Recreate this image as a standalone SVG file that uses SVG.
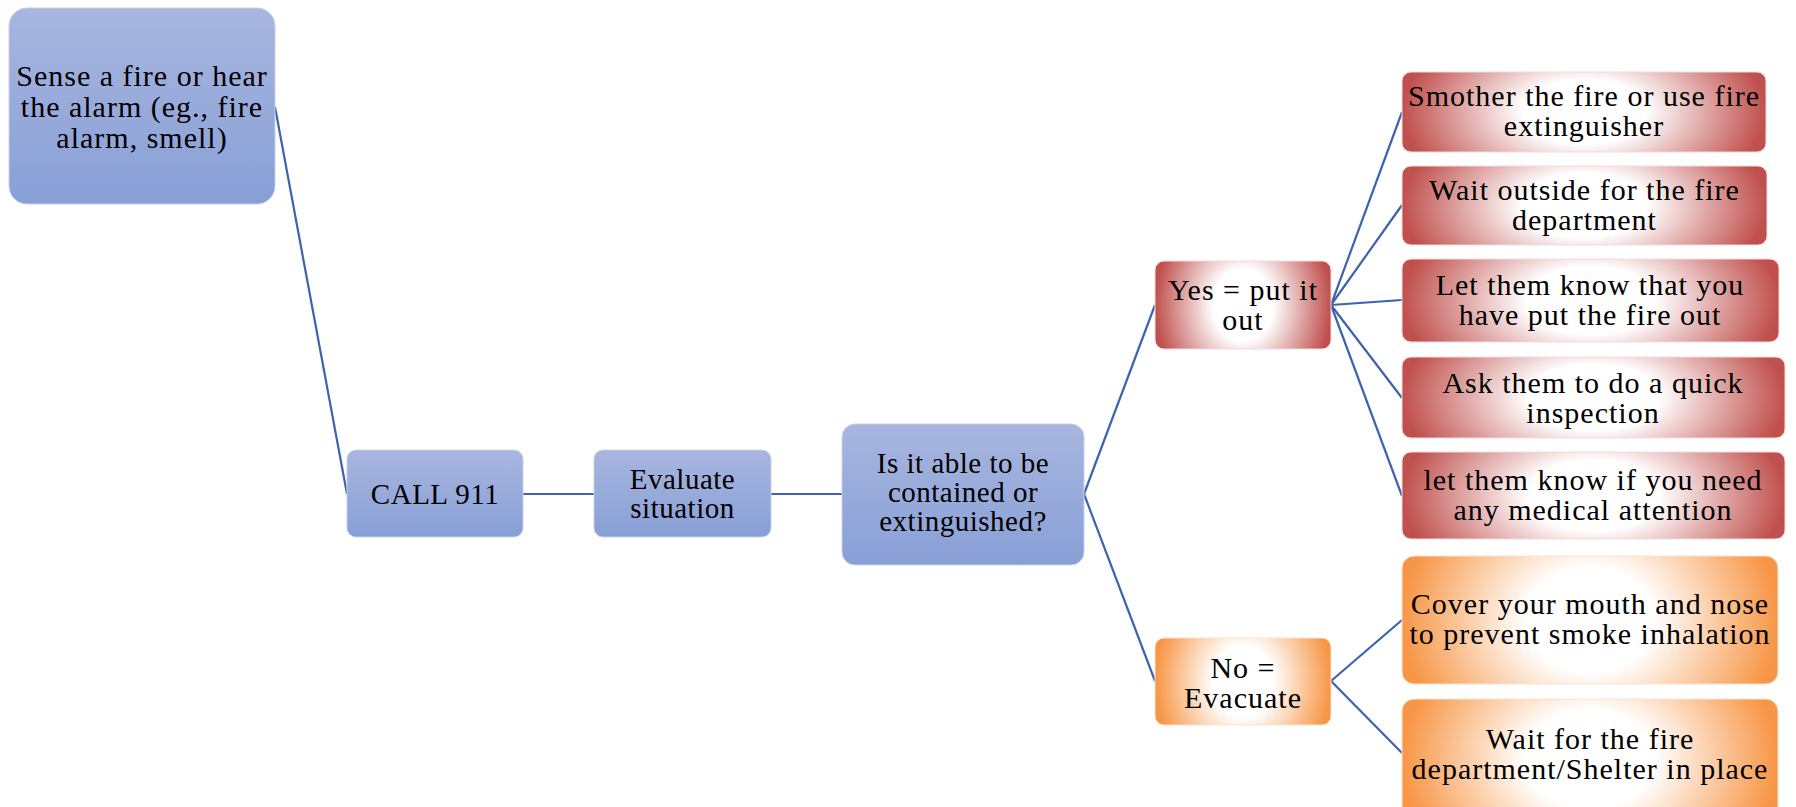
<svg xmlns="http://www.w3.org/2000/svg" width="1796" height="807" viewBox="0 0 1796 807">
<style>
.t{font-family:"Liberation Serif","Times New Roman",serif;font-size:30px;letter-spacing:1px;fill:#000;text-anchor:middle}
.s{font-size:29px;letter-spacing:0.5px}
.blue{fill:url(#gBlue);stroke:#c7d0ec;stroke-width:1}
.red{fill:url(#gRed);stroke:#f3dcdc;stroke-width:1}
.org{fill:url(#gOrg);stroke:#fbe3cf;stroke-width:1}
.c{stroke:#3d62b0;stroke-width:2.2;fill:none}
</style>
<defs>
<linearGradient id="gBlue" x1="0" y1="0" x2="0" y2="1">
<stop offset="0" stop-color="#a8b6df"/>
<stop offset="1" stop-color="#889fd6"/>
</linearGradient>
<radialGradient id="gRed" cx="0.5" cy="0.5" r="0.5" gradientTransform="translate(0.5 0.5) scale(1 2.4) translate(-0.5 -0.5)">
<stop offset="0" stop-color="#ffffff"/>
<stop offset="0.34" stop-color="#ffffff"/>
<stop offset="1" stop-color="#c0504d"/>
</radialGradient>
<radialGradient id="gOrg" cx="0.5" cy="0.5" r="0.5" gradientTransform="translate(0.5 0.5) scale(1 2.4) translate(-0.5 -0.5)">
<stop offset="0" stop-color="#ffffff"/>
<stop offset="0.34" stop-color="#ffffff"/>
<stop offset="1" stop-color="#f79646"/>
</radialGradient>
</defs>
<g id="connectors">
<line class="c" x1="275" y1="107" x2="347" y2="494"/>
<line class="c" x1="523" y1="494" x2="594" y2="494"/>
<line class="c" x1="771" y1="494" x2="842" y2="494"/>
<line class="c" x1="1084" y1="494" x2="1155" y2="305"/>
<line class="c" x1="1084" y1="494" x2="1155" y2="681"/>
<line class="c" x1="1331" y1="305" x2="1402" y2="112"/>
<line class="c" x1="1331" y1="305" x2="1402" y2="205"/>
<line class="c" x1="1331" y1="305" x2="1402" y2="300"/>
<line class="c" x1="1331" y1="305" x2="1402" y2="398"/>
<line class="c" x1="1331" y1="305" x2="1402" y2="496"/>
<line class="c" x1="1331" y1="681" x2="1402" y2="620"/>
<line class="c" x1="1331" y1="681" x2="1402" y2="753"/>
</g>
<g id="n-sense">
<rect class="blue" x="9" y="8" width="266" height="196" rx="18"/>
<text class="t" x="142" y="86">Sense a fire or hear</text>
<text class="t" x="142" y="117">the alarm (eg., fire</text>
<text class="t" x="142" y="148">alarm, smell)</text>
</g>
<g id="n-call">
<rect class="blue" x="347" y="450" width="176" height="87" rx="9"/>
<text class="t s" x="435" y="504">CALL 911</text>
</g>
<g id="n-evaluate">
<rect class="blue" x="594" y="450" width="177" height="87" rx="9"/>
<text class="t s" x="682.5" y="489">Evaluate</text>
<text class="t s" x="682.5" y="518">situation</text>
</g>
<g id="n-contained">
<rect class="blue" x="842" y="424" width="242" height="141" rx="13"/>
<text class="t s" x="963" y="473">Is it able to be</text>
<text class="t s" x="963" y="502">contained or</text>
<text class="t s" x="963" y="531">extinguished?</text>
</g>
<g id="n-yes">
<rect class="red" x="1155" y="261" width="176" height="88" rx="9"/>
<text class="t" x="1243" y="300">Yes = put it</text>
<text class="t" x="1243" y="330">out</text>
</g>
<g id="n-no">
<rect class="org" x="1155" y="638" width="176" height="87" rx="9"/>
<text class="t" x="1243" y="678">No =</text>
<text class="t" x="1243" y="708">Evacuate</text>
</g>
<g id="n-smother">
<rect class="red" x="1402" y="72" width="364" height="80" rx="9"/>
<text class="t" x="1584" y="106">Smother the fire or use fire</text>
<text class="t" x="1584" y="136">extinguisher</text>
</g>
<g id="n-waitout">
<rect class="red" x="1402" y="166" width="365" height="79" rx="9"/>
<text class="t" x="1584.5" y="200">Wait outside for the fire</text>
<text class="t" x="1584.5" y="230">department</text>
</g>
<g id="n-letknow">
<rect class="red" x="1402" y="259" width="377" height="83" rx="9"/>
<text class="t" x="1590" y="295">Let them know that you</text>
<text class="t" x="1590" y="325">have put the fire out</text>
</g>
<g id="n-ask">
<rect class="red" x="1402" y="357" width="383" height="81" rx="9"/>
<text class="t" x="1593" y="393">Ask them to do a quick</text>
<text class="t" x="1593" y="423">inspection</text>
</g>
<g id="n-medical">
<rect class="red" x="1402" y="452" width="383" height="87" rx="9"/>
<text class="t" x="1593" y="490">let them know if you need</text>
<text class="t" x="1593" y="520">any medical attention</text>
</g>
<g id="n-cover">
<rect class="org" x="1402" y="556" width="376" height="128" rx="12"/>
<text class="t" x="1590" y="614">Cover your mouth and nose</text>
<text class="t" x="1590" y="644">to prevent smoke inhalation</text>
</g>
<g id="n-shelter">
<rect class="org" x="1402" y="699" width="376" height="120" rx="12"/>
<text class="t" x="1590" y="749">Wait for the fire</text>
<text class="t" x="1590" y="779">department/Shelter in place</text>
</g>
</svg>
